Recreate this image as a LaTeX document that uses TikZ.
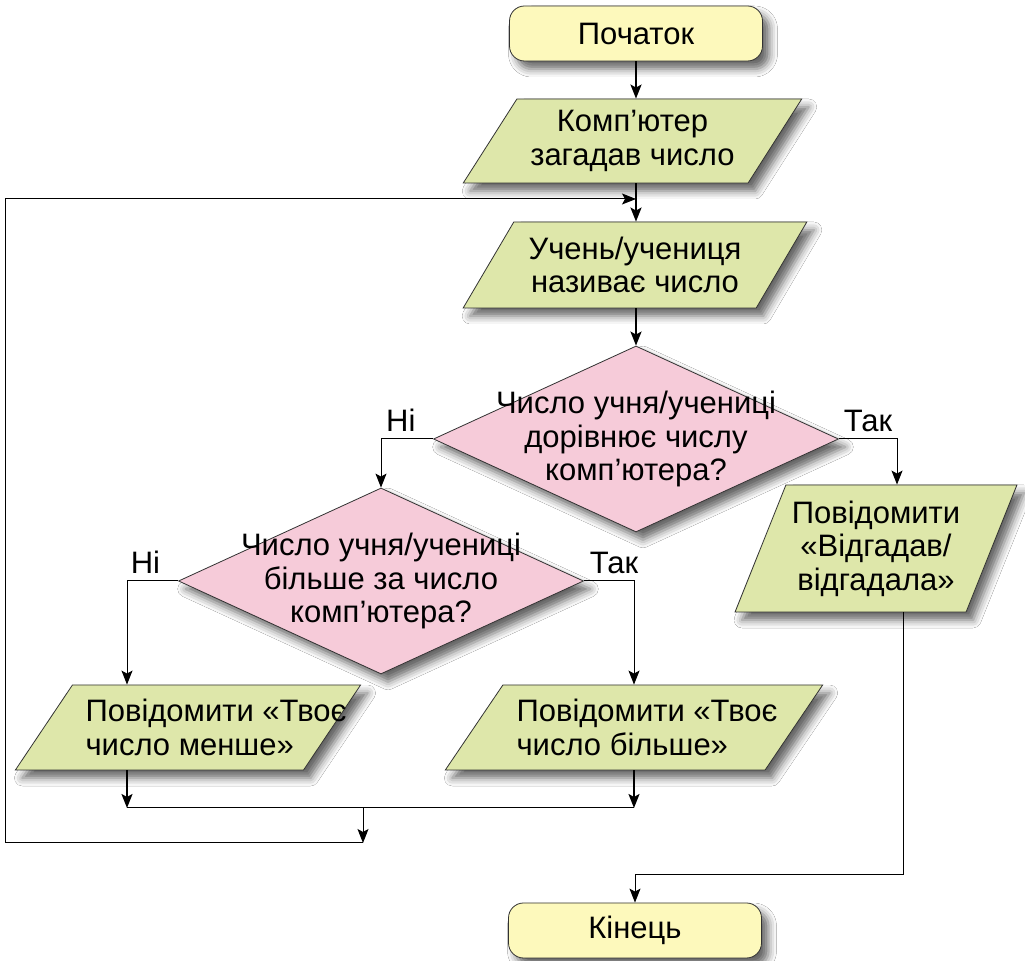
\documentclass[tikz,border=0pt]{standalone}
\usepackage{fontspec}
\setmainfont{Liberation Sans}
\usetikzlibrary{shapes.geometric, arrows.meta, shadows.blur}

\definecolor{termfill}{RGB}{253,249,188}
\definecolor{iofill}{RGB}{222,231,170}
\definecolor{askfill}{RGB}{246,203,217}
\definecolor{linegray}{RGB}{50,50,50}

\begin{document}
\begin{tikzpicture}[x=.5pt, y=-.5pt,
    every node/.style={font=\fontsize{15.5}{16.8}\selectfont},
    shadowed/.style={blur shadow={shadow xshift=3.5pt, shadow yshift=-4pt, shadow blur radius=4pt, shadow opacity=60}},
    term/.style={draw=linegray, fill=termfill, rounded corners=7.5pt, minimum width=126.5pt, minimum height=27.5pt, shadowed},
    io/.style={draw=linegray, fill=iofill, trapezium, trapezium stretches=true, trapezium left angle=57, trapezium right angle=123, inner xsep=1pt, align=center, shadowed},
    msg/.style={io, trapezium left angle=53.5, trapezium right angle=126.5, inner xsep=-13pt, minimum height=42.5pt, align=left},
    ask/.style={draw=linegray, fill=askfill, diamond, inner sep=0pt, minimum width=202.5pt, minimum height=93pt, shadowed},
    arr/.style={-{Stealth[length=7pt, width=5.5pt, inset=1.5pt]}, line width=1pt},
    tarr/.style={-{Stealth[length=7pt, width=5.5pt, inset=1.5pt]}, line width=.5pt},
    flow/.style={line width=.5pt}]
    \useasboundingbox [fill=white] (0, 0) rectangle (1025, 961);

    \node [term] (start) at (636, 33.5) {Початок};
    \node [io, minimum width=169.5pt, minimum height=42pt] (think) at (632.5, 141) {Комп’ютер\\загадав число};
    \node [io, minimum width=172pt, minimum height=43pt] (guess) at (635, 265) {Учень/учениця\\називає число};
    \node [ask, label={[align=center]center:{Число учня/учениці\\дорівнює числу\\комп’ютера?}}] (eq) at (636, 439) {};
    \node [ask, label={[align=center]center:{Число учня/учениці\\більше за число\\комп’ютера?}}] (gt) at (381, 581) {};
    \node [io, minimum width=141pt, minimum height=63.5pt, trapezium left angle=66, trapezium right angle=114] (win) at (876, 548.5) {Повідомити\\«Відгадав/\\відгадала»};
    \node [msg, minimum width=173pt, inner xsep=-27pt] (less) at (188, 727.5) {\hspace*{28pt}Повідомити «Твоє\\\hspace*{28pt}число менше»};
    \node [msg, minimum width=189pt] (more) at (634, 727.5) {\hspace*{13pt}Повідомити «Твоє\\\hspace*{13pt}число більше»};
    \node [term] (finish) at (635, 930.5) {Кінець};

    \coordinate (loop) at (636, 199);
    \coordinate (joinl) at (127, 808);
    \coordinate (join) at (363, 808);
    \coordinate (joinr) at (634, 808);
    \coordinate (back) at (363, 843);

    \draw [arr] (start) -- (start |- think.north);
    \draw [arr] (think.south -| loop) -- (guess.north -| loop);
    \draw [tarr] (back) -- ++(-358, 0) |- (loop);
    \draw [arr] (guess.south -| eq) -- (eq);
    \draw [tarr] (eq.west) -| node [pos=.31, above] {Ні} (gt.north);
    \draw [tarr] (eq.east) -| node [pos=.25, above] {Так} ([xshift=10.5pt]win.north);
    \draw [tarr] (gt.west) -| node [pos=.32, above] {Ні} (less.north -| joinl);
    \draw [tarr] (gt.east) -| node [pos=.3, above] {Так} (more.north);
    \draw [arr] (less.south -| joinl) -- (joinl);
    \draw [arr] (more.south -| joinr) -- (joinr);
    \draw [flow] (joinl) -- (joinr);
    \draw [tarr] (join) -- (back);
    \draw [tarr] ([xshift=13.5pt]win.south) -- ++(0, 262) -| (finish.north);
\end{tikzpicture}
\end{document}
